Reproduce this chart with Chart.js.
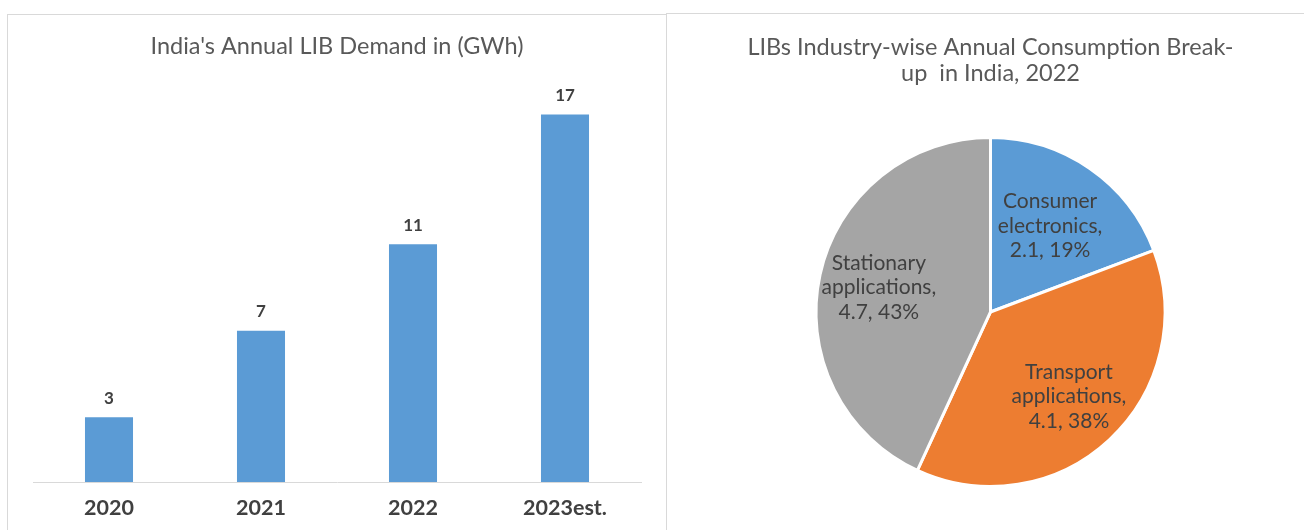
<!DOCTYPE html>
<html>
<head>
<meta charset="utf-8">
<script src="https://cdn.jsdelivr.net/npm/chart.js@4"></script>
<style>
  html, body { margin: 0; padding: 0; background: #fff; width: 1304px; height: 530px; overflow: hidden; position: relative; }
  .panel { position: absolute; border: 1px solid #d9d9d9; border-bottom: none; box-sizing: border-box; }
  .cv { position: absolute; }
</style>
</head>
<body>
<div class="panel" style="left:7px; top:14px; width:660px; height:530px;"></div>
<div class="panel" style="left:666px; top:13px; width:660px; height:530px;"></div>
<div class="cv" style="left:9px; top:16px; width:657px; height:514px;"><canvas id="bar"></canvas></div>
<div class="cv" style="left:667px; top:15px; width:647px; height:515px;"><canvas id="pie"></canvas></div>
<script>
// ---- Data ----
const barTitle = "India's Annual LIB Demand in (GWh)";
const years = ['2020', '2021', '2022', '2023est.'];
const demandGWh = [3, 7, 11, 17];

const pieTitle = ['LIBs Industry-wise Annual Consumption Break-', 'up  in India, 2022'];
const segments = ['Consumer electronics', 'Transport applications', 'Stationary applications'];
const consumption = [2.1, 4.1, 4.7];
const segmentColors = ['#5B9BD5', '#ED7D31', '#A5A5A5'];

const FONT = 'Lato, "Open Sans", sans-serif';
const TITLE_COLOR = '#595959';
const LABEL_COLOR = '#404040';

// ---- Bar chart ----
const barValueLabels = {
  id: 'barValueLabels',
  afterDatasetsDraw(chart) {
    const ctx = chart.ctx;
    const meta = chart.getDatasetMeta(0);
    ctx.save();
    ctx.font = 'bold 17px ' + FONT;
    ctx.fillStyle = LABEL_COLOR;
    ctx.textAlign = 'center';
    ctx.textBaseline = 'middle';
    meta.data.forEach((bar, i) => {
      ctx.fillText(String(demandGWh[i]), bar.x, bar.y - 19);
    });
    ctx.restore();
  }
};

new Chart(document.getElementById('bar'), {
  type: 'bar',
  data: {
    labels: years,
    datasets: [{
      data: demandGWh,
      backgroundColor: '#5B9BD5',
      borderWidth: 0,
      categoryPercentage: 1,
      barPercentage: 0.316
    }]
  },
  options: {
    responsive: true,
    maintainAspectRatio: false,
    animation: false,
    events: [],
    layout: { padding: { left: 24, right: 25, top: 0, bottom: 0 } },
    plugins: {
      legend: { display: false },
      tooltip: { enabled: false },
      title: {
        display: true,
        text: barTitle,
        color: TITLE_COLOR,
        font: { family: FONT, size: 23.5, weight: 'normal', lineHeight: 1.2 },
        padding: { top: 15.9, bottom: 32.9 }
      }
    },
    scales: {
      x: {
        grid: { display: false, drawTicks: false },
        border: { display: true, color: '#d9d9d9', width: 1 },
        ticks: { color: LABEL_COLOR, font: { family: FONT, size: 21.5, weight: 'bold', lineHeight: 1.2 }, padding: 13 },
        afterFit(scale) { scale.height = 48; }
      },
      y: {
        display: false,
        min: 0,
        max: 18
      }
    }
  },
  plugins: [barValueLabels]
});

// ---- Pie chart ----
const total = consumption.reduce((a, b) => a + b, 0);
const labelRadiusFactor = [0.6, 0.66, 0.655]; // style: label distance from centre, fraction of radius
const pieLabels = {
  id: 'pieLabels',
  afterDatasetsDraw(chart) {
    const ctx = chart.ctx;
    const meta = chart.getDatasetMeta(0);
    ctx.save();
    ctx.font = '21px ' + FONT;
    ctx.fillStyle = LABEL_COLOR;
    ctx.textAlign = 'center';
    ctx.textBaseline = 'middle';
    const lh = 24.5;
    meta.data.forEach((arc, i) => {
      const mid = (arc.startAngle + arc.endAngle) / 2;
      const r = arc.outerRadius * labelRadiusFactor[i];
      const cx = arc.x + Math.cos(mid) * r;
      const cy = arc.y + Math.sin(mid) * r;
      const words = segments[i].split(' ');
      const pct = Math.round(consumption[i] / total * 100);
      const lines = [words[0], words.slice(1).join(' ') + ',', consumption[i] + ', ' + pct + '%'];
      lines.forEach((t, k) => ctx.fillText(t, cx, cy + (k - 1) * lh));
    });
    ctx.restore();
  }
};

new Chart(document.getElementById('pie'), {
  type: 'pie',
  data: {
    labels: segments,
    datasets: [{
      data: consumption,
      backgroundColor: segmentColors,
      borderColor: '#ffffff',
      borderWidth: 3
    }]
  },
  options: {
    responsive: true,
    maintainAspectRatio: false,
    animation: false,
    events: [],
    layout: { padding: { left: 0, right: 0, top: 0, bottom: 42 } },
    plugins: {
      legend: { display: false },
      tooltip: { enabled: false },
      title: {
        display: true,
        text: pieTitle,
        color: TITLE_COLOR,
        font: { family: FONT, size: 23.5, weight: 'normal', lineHeight: 1.106 },
        padding: { top: 19, bottom: 50 }
      }
    }
  },
  plugins: [pieLabels]
});
</script>
</body>
</html>
